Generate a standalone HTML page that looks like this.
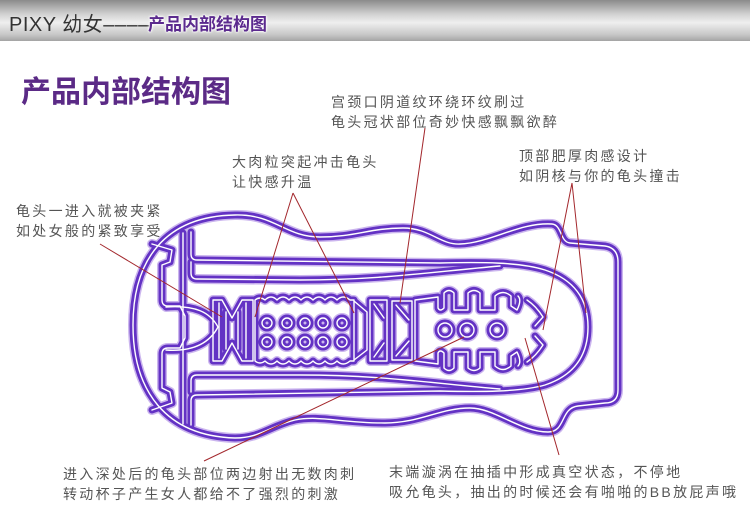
<!DOCTYPE html>
<html><head><meta charset="utf-8"><style>
body{margin:0;width:750px;height:517px;background:#fff;position:relative;overflow:hidden;font-family:"Liberation Sans","Noto Sans CJK SC",sans-serif}
.hdr{position:absolute;left:0;top:0;width:750px;height:41px;background:linear-gradient(#8a8a8a,#d2d2d2 35%,#efefef 55%,#c6c6c6 85%,#a4a4a4)}
.h1{position:absolute;left:9px;top:8px;font-size:20px;color:#333;white-space:nowrap;letter-spacing:0.5px}
.h2{position:absolute;left:148px;top:10px;font-size:17px;font-weight:bold;color:#5b2a8e;text-shadow:0 0 2px #fff,0 0 2px #fff,0 0 3px #fff;white-space:nowrap}
.title{position:absolute;left:21px;top:67px;font-size:30px;font-weight:bold;color:#5b2a86;white-space:nowrap}
.t{position:absolute;font-size:14px;color:#555;letter-spacing:2.3px;line-height:20px;white-space:nowrap}
svg{position:absolute;left:0;top:0}
</style></head><body>
<div class="hdr"></div>
<div class="h1">PIXY 幼女––––</div>
<div class="h2">产品内部结构图</div>
<div class="title">产品内部结构图</div>
<div class="t" style="left:331px;top:92px">宫颈口阴道纹环绕环纹刷过<br>龟头冠状部位奇妙快感飘飘欲醉</div>
<div class="t" style="left:232px;top:152px">大肉粒突起冲击龟头<br>让快感升温</div>
<div class="t" style="left:519px;top:146px">顶部肥厚肉感设计<br>如阴核与你的龟头撞击</div>
<div class="t" style="left:16px;top:201px">龟头一进入就被夹紧<br>如处女般的紧致享受</div>
<div class="t" style="left:63px;top:464px">进入深处后的龟头部位两边射出无数肉刺<br>转动杯子产生女人都给不了强烈的刺激</div>
<div class="t" style="left:389px;top:462px">末端漩涡在抽插中形成真空状态，不停地<br>吸允龟头，抽出的时候还会有啪啪的BB放屁声哦</div>
<svg width="750" height="517" viewBox="0 0 750 517">
<defs>
<g id="s" fill="none" stroke-linejoin="round" stroke-linecap="round">
<path d="M133,325 C133,260 165,216 235,215 C275,214 285,237 320,237 C355,237 370,228 403,228 C430,228 440,245 460,244 C490,243 520,222 552,224 C562,225 560,242 570,243 L605,246 Q618,248 618,262 L618,390 Q618,403 605,403 L578,406 C560,408 566,432 548,432 C520,432 495,408 470,408 C440,408 420,423 385,423 C340,423 320,415 295,420 C270,426 260,438 235,438 C165,436 133,390 133,325 Z"/>
<path d="M183,233 L183,424"/>
<path d="M152,244 L172,250 L170,262 L162,265 L162,300 Q162,306 168,306 L180,306 L185,316 L185,338 L180,348 L168,348 Q162,348 162,354 L162,388 L170,392 L172,403 L152,410"/>
<path d="M166,307 C195,305 210,312 218,327 C210,342 195,352 166,350"/>
<path d="M191,232 L191,254 Q191,260 197,260 L440,263 C480,262 520,262 545,270 C575,280 588,300 588,327 C588,355 575,375 545,385 C520,392 480,392 440,391 L197,395 Q191,395 191,401 L191,425"/>
<path d="M191,262 L191,273 Q191,279 197,279 L300,280 C380,280 430,272 500,266"/>
<path d="M191,392 L191,381 Q191,375 197,375 L300,375 C380,375 430,383 500,389"/>
<path d="M213,300 L222,300 L232,318 L242,300 L253,300 L253,361 L242,361 L232,343 L222,361 L213,361 Z"/>
<path d="M219,303 L219,358 M226,312 L226,349 M238,312 L238,349 M246,303 L246,358"/>
<path d="M255,300 Q260,296 265,300 Q271,294 277,300 Q283,294 289,300 Q295,294 301,300 Q307,294 313,300 Q319,294 325,300 Q331,294 337,300 Q343,294 350,300 L354,300 L354,361 L350,361 Q343,367 337,361 Q331,367 325,361 Q319,367 313,361 Q307,367 301,361 Q295,367 289,361 Q283,367 277,361 Q271,367 265,361 Q260,365 255,361 Z"/>
<circle cx="267" cy="323" r="5"/><circle cx="287" cy="323" r="5"/><circle cx="305" cy="323" r="5"/><circle cx="323" cy="323" r="5"/><circle cx="342" cy="323" r="5"/>
<circle cx="267" cy="342" r="5"/><circle cx="287" cy="342" r="5"/><circle cx="305" cy="342" r="5"/><circle cx="323" cy="342" r="5"/><circle cx="342" cy="342" r="5"/>
<path d="M354,301 L367,312 L367,350 L354,360"/>
<path d="M370,300 L387,300 L387,361 L370,361 Z M374,304 L384,318 M374,357 L384,343"/>
<path d="M392,301 L412,301 L412,360 L392,360 Z M396,305 L409,320 M396,356 L409,341"/>
<path d="M415,300 L438,297 L438,308 Q440,312 444,308 L444,293 Q449,288 454,293 L454,310 L468,310 L468,293 Q474,288 480,293 L480,310 L495,310 L495,296 Q503,289 511,296 L511,306 L517,310 Q522,300 518,296 M415,300 L415,361 L438,364 L438,353 Q440,349 444,353 L444,368 Q449,373 454,368 L454,352 L468,352 L468,368 Q474,373 480,368 L480,352 L495,352 L495,366 Q503,373 511,366 L511,356 L517,352 Q522,362 518,366"/>
<circle cx="445" cy="330" r="7"/><circle cx="467" cy="330" r="7"/><circle cx="497" cy="330" r="7"/>
<path d="M527,300 Q536,306 543,317 L535,326"/>
<path d="M527,362 Q536,356 543,345 L535,336"/>
</g>
</defs>
<use href="#s" stroke="#cbb5ee" stroke-width="10"/>
<use href="#s" stroke="#6332c4" stroke-width="7"/>
<use href="#s" stroke="#ffffff" stroke-width="1.4"/>
<g stroke="#a3272c" stroke-width="1" fill="none">
<path d="M100,244 L222,317"/>
<path d="M293,193 L255,317 M293,193 L354,313"/>
<path d="M425,128 L400,303"/>
<path d="M572,183 L543,330 M572,183 L586,313"/>
<path d="M204,461 L464,337"/>
<path d="M559,455 L525,338"/>
</g>
</svg>
</body></html>
